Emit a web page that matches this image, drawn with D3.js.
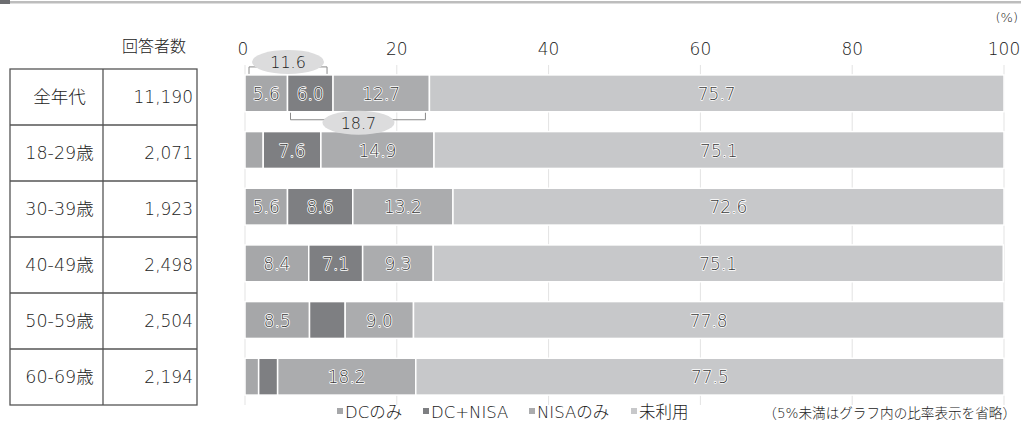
<!DOCTYPE html>
<html>
<head>
<meta charset="utf-8">
<script src="https://cdn.jsdelivr.net/npm/d3@7"></script>
<style>
  body { margin: 0; background: #fff; }
  svg { display: block; font-family: "DejaVu Sans", "Noto Sans CJK JP", sans-serif; }
</style>
</head>
<body>
<div id="chart"></div>
<script>
// data
const ages = ["全年代", "18-29歳", "30-39歳", "40-49歳", "50-59歳", "60-69歳"];
const respondents = ["11,190", "2,071", "1,923", "2,498", "2,504", "2,194"];
const seriesNames = ["DCのみ", "DC+NISA", "NISAのみ", "未利用"];
const dcOnly   = [5.6, 2.4, 5.6, 8.4, 8.5, 1.8];
const dcNisa   = [6.0, 7.6, 8.6, 7.1, 4.7, 2.5];
const nisaOnly = [12.7, 14.9, 13.2, 9.3, 9.0, 18.2];
const unused   = [75.7, 75.1, 72.6, 75.1, 77.8, 77.5];
const xTicks = [0, 20, 40, 60, 80, 100];
const dcTotal = 11.6;   // DCのみ + DC+NISA (全年代)
const nisaTotal = 18.7; // DC+NISA + NISAのみ (全年代)

const width = 1021, height = 422;
const colors = ["#a6a7a9", "#7e7f82", "#abacae", "#c7c8ca"];
const textW = 300;
const ink = "#222";

const svg = d3.select("#chart").append("svg")
  .attr("width", width).attr("height", height);

// top rule
svg.append("rect").attr("x", 0).attr("y", 1).attr("width", width).attr("height", 2.5).attr("fill", "#bdbdbd");
svg.append("rect").attr("x", 0).attr("y", 0).attr("width", 10).attr("height", 4).attr("fill", "#6d6e71");

const x = d3.scaleLinear().domain([0, 100]).range([245, 1004]);
const y = d3.scaleBand().domain(ages).range([65, 405]).paddingInner(0.35).paddingOuter(0.175);

// gridlines
svg.append("g").selectAll("line").data(xTicks).join("line")
  .attr("x1", d => x(d)).attr("x2", d => x(d))
  .attr("y1", 65).attr("y2", 405)
  .attr("stroke", "#e3e3e3").attr("stroke-width", 1);

// tick labels
svg.append("g").selectAll("text").data(xTicks).join("text")
  .attr("x", d => x(d) - (d === 0 ? 2 : 0)).attr("y", 55)
  .attr("text-anchor", "middle").attr("font-size", 17).attr("font-weight", textW).attr("fill", ink)
  .text(d => d);
svg.append("text").attr("x", 1018).attr("y", 22).attr("text-anchor", "end")
  .attr("font-size", 13).attr("font-weight", textW).attr("fill", ink).text("(%)");

// stacked bars
const rows = ages.map((a, i) => ({ age: a, values: [dcOnly[i], dcNisa[i], nisaOnly[i], unused[i]] }));
const segs = [];
rows.forEach(r => {
  let acc = 0;
  r.values.forEach((v, k) => {
    segs.push({ age: r.age, k, v, x0: acc, x1: acc + v });
    acc += v;
  });
});

svg.append("g").selectAll("rect").data(segs).join("rect")
  .attr("x", d => x(d.x0))
  .attr("y", d => y(d.age))
  .attr("width", d => Math.max(0, x(d.x1) - x(d.x0)))
  .attr("height", y.bandwidth())
  .attr("fill", d => colors[d.k])
  .attr("stroke", "#fff").attr("stroke-width", 1.5);

svg.append("g").selectAll("text").data(segs.filter(d => d.v >= 5)).join("text")
  .attr("x", d => (x(d.x0) + x(d.x1)) / 2)
  .attr("y", d => y(d.age) + y.bandwidth() / 2 + 6.5)
  .attr("text-anchor", "middle").attr("font-size", 17).attr("font-weight", textW)
  .attr("fill", "#3a3a3a").attr("stroke", "#fff").attr("stroke-width", 1.6)
  .attr("paint-order", "stroke").attr("stroke-linejoin", "round")
  .text(d => d.v.toFixed(1));

// callouts for 全年代
const r0 = y(ages[0]);
const bracket = svg.append("g").attr("fill", "none").attr("stroke", "#8a8a8a").attr("stroke-width", 1);
bracket.append("path")
  .attr("d", `M${x(0) + 4},${r0 - 1}V${r0 - 8}H${x(dcTotal) - 6}V${r0 - 1}`);
bracket.append("path")
  .attr("d", `M${x(dcOnly[0]) + 3},${r0 + y.bandwidth() + 1}V${r0 + y.bandwidth() + 8}H${x(dcOnly[0] + nisaTotal) - 4}V${r0 + y.bandwidth() + 1}`);

const callouts = [
  { cx: (x(0) + x(dcTotal)) / 2 - 1, cy: r0 - 13, label: dcTotal },
  { cx: (x(dcOnly[0]) + x(dcOnly[0] + nisaTotal)) / 2, cy: r0 + y.bandwidth() + 11, label: nisaTotal }
];
svg.append("g").selectAll("ellipse").data(callouts).join("ellipse")
  .attr("cx", d => d.cx).attr("cy", d => d.cy).attr("rx", 36).attr("ry", 12)
  .attr("fill", "#dcdcdd");
svg.append("g").selectAll("text").data(callouts).join("text")
  .attr("x", d => d.cx).attr("y", d => d.cy + 6)
  .attr("text-anchor", "middle").attr("font-size", 16).attr("font-weight", textW).attr("fill", ink)
  .text(d => d.label.toFixed(1));

// respondents table
const tTop = 69, tRow = 56, tL = 10, tM = 103, tR = 197;
const table = svg.append("g");
table.append("rect").attr("x", tL).attr("y", tTop).attr("width", tR - tL).attr("height", tRow * ages.length)
  .attr("fill", "none").attr("stroke", "#555").attr("stroke-width", 1.3);
table.append("line").attr("x1", tM).attr("x2", tM).attr("y1", tTop).attr("y2", tTop + tRow * ages.length)
  .attr("stroke", "#555").attr("stroke-width", 1.3);
table.selectAll(".hl").data(d3.range(1, ages.length)).join("line")
  .attr("x1", tL).attr("x2", tR).attr("y1", i => tTop + i * tRow).attr("y2", i => tTop + i * tRow)
  .attr("stroke", "#555").attr("stroke-width", 1.3);
table.selectAll(".age").data(ages).join("text")
  .attr("x", (tL + tM) / 2 + 3).attr("y", (d, i) => tTop + i * tRow + tRow / 2 + 6)
  .attr("text-anchor", "middle").attr("font-size", 17.5).attr("font-weight", textW).attr("fill", ink).text(d => d);
table.selectAll(".num").data(respondents).join("text")
  .attr("x", tR - 4).attr("y", (d, i) => tTop + i * tRow + tRow / 2 + 6)
  .attr("text-anchor", "end").attr("font-size", 17).attr("font-weight", textW).attr("fill", ink).text(d => d);
svg.append("text").attr("x", (tM + tR) / 2 + 4).attr("y", 52).attr("text-anchor", "middle")
  .attr("font-size", 16).attr("font-weight", textW).attr("fill", ink).text("回答者数");

// legend
const legendX = [337, 423, 529, 631];
const legend = svg.append("g").selectAll("g").data(seriesNames).join("g")
  .attr("transform", (d, i) => `translate(${legendX[i]},0)`);
legend.append("rect").attr("x", 0).attr("y", 408).attr("width", 6).attr("height", 6)
  .attr("fill", (d, i) => colors[i]);
legend.append("text").attr("x", 8).attr("y", 418).attr("font-size", 16.5).attr("font-weight", textW).attr("fill", ink).text(d => d);
svg.append("text").attr("x", 1016).attr("y", 418).attr("text-anchor", "end")
  .attr("font-size", 13.6).attr("font-weight", textW).attr("fill", ink).text("（5%未満はグラフ内の比率表示を省略）");
</script>
</body>
</html>
